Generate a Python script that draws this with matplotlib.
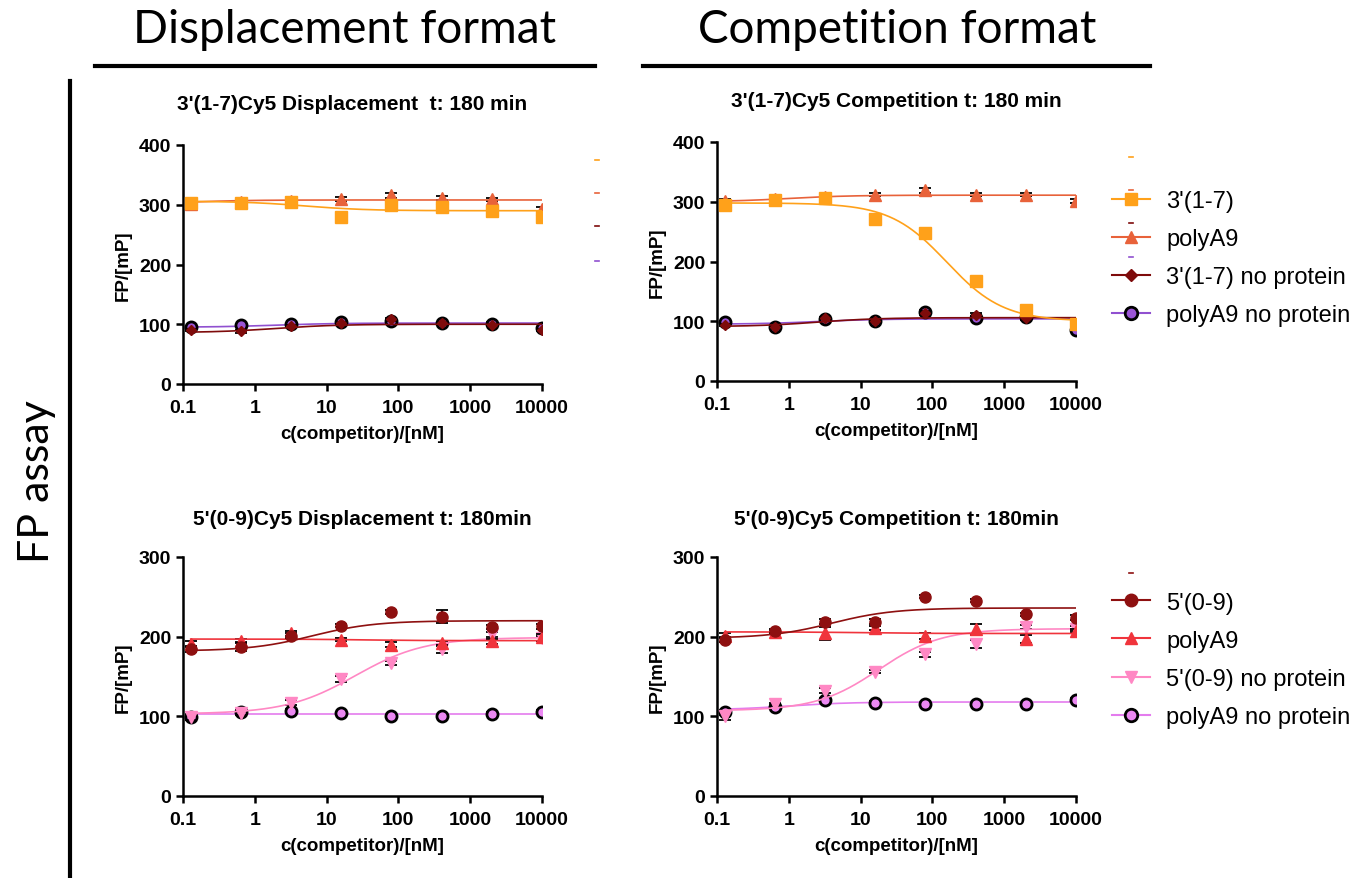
import numpy as np
import matplotlib
matplotlib.use("Agg")
import matplotlib.pyplot as plt
from matplotlib.lines import Line2D
from matplotlib.ticker import FixedLocator, FixedFormatter, NullLocator

plt.rcParams["font.family"] = ["Liberation Sans", "DejaVu Sans"]

# competitor concentrations (nM), 5-fold dilution series
conc = [0.128, 0.64, 3.2, 16, 80, 400, 2000, 10000]

# ---- 3'(1-7) displacement
disp3_labels = ["3'(1-7)", "polyA9", "3'(1-7) no protein", "polyA9 no protein"]
disp3_y = [
    [303, 303, 305, 280, 300, 297, 290, 279],
    [301, 305, 306, 310, 316, 311, 309, 293],
    [90, 88, 97, 102, 108, 102, 99, 90],
    [95, 98, 100, 104, 106, 102, 101, 94],
]
disp3_err = [
    [2, 2, 2, 2, 3, 2, 2, 2],
    [2, 2, 2, 3, 4, 3, 3, 3],
    [2, 2, 2, 2, 3, 2, 2, 2],
    [2, 2, 2, 2, 3, 2, 2, 2],
]
# fit parameters: start, end, logEC50, hill
disp3_fit = [(306, 290, 0.7, 1.0), (300, 308, -1.0, 1.0), (86, 100, 0.3, 1.0), (95, 102, 0.3, 1.0)]

# ---- 3'(1-7) competition
comp3_labels = disp3_labels
comp3_y = [
    [295, 303, 306, 271, 248, 168, 119, 96],
    [302, 305, 308, 312, 319, 312, 312, 301],
    [94, 90, 105, 101, 114, 111, 105, 95],
    [99, 91, 104, 100, 115, 106, 107, 86],
]
comp3_err = [
    [2, 2, 3, 3, 3, 3, 3, 2],
    [2, 2, 3, 3, 4, 3, 3, 3],
    [2, 2, 2, 2, 3, 2, 3, 2],
    [2, 2, 2, 2, 3, 2, 2, 2],
]
comp3_fit = [(298, 100, 2.2, 1.1), (300, 311, 0.0, 1.0), (91, 106, 0.4, 1.0), (95, 104, 0.4, 1.0)]

# ---- 5'(0-9) displacement
disp5_labels = ["5'(0-9)", "polyA9", "5'(0-9) no protein", "polyA9 no protein"]
disp5_y = [
    [184, 187, 201, 214, 231, 225, 212, 213],
    [191, 195, 204, 196, 190, 192, 194, 199],
    [99, 104, 117, 147, 167, 184, 203, 198],
    [99, 106, 107, 104, 101, 101, 103, 106],
]
disp5_err = [
    [3, 5, 3, 2, 2, 8, 3, 3],
    [3, 2, 3, 2, 3, 3, 3, 4],
    [4, 2, 3, 4, 3, 4, 3, 3],
    [3, 2, 2, 2, 2, 2, 2, 2],
]
disp5_fit = [(182, 220, 0.8, 1.0), (197, 195, 1.5, 1.0), (103, 199, 1.4, 0.9), (103, 103, 1.0, 1.0)]

# ---- 5'(0-9) competition
comp5_labels = disp5_labels
comp5_y = [
    [196, 207, 219, 219, 250, 245, 228, 224],
    [201, 206, 204, 211, 201, 209, 197, 207],
    [101, 115, 132, 156, 178, 191, 212, 210],
    [105, 112, 121, 117, 116, 116, 115, 121],
]
comp5_err = [
    [3, 3, 3, 3, 2, 2, 2, 3],
    [3, 2, 8, 3, 4, 7, 5, 2],
    [6, 2, 3, 2, 3, 5, 3, 3],
    [3, 2, 2, 2, 2, 2, 2, 2],
]
comp5_fit = [(198, 236, 0.6, 1.0), (206, 204, 1.0, 1.0), (107, 210, 1.25, 1.0), (108, 118, 0.0, 1.0)]

# styles (color, marker, face, edge, size)
style3 = [
    ("#FFA11A", "s", "#FFA11A", "#FFA11A", 8),
    ("#E8623A", "^", "#E8623A", "#E8623A", 8),
    ("#7E0B0B", "D", "#7E0B0B", "#7E0B0B", 5.5),
    ("#9050D0", "o", "#9B55D6", "black", 8),
]
style5 = [
    ("#8E1010", "o", "#8E1010", "#8E1010", 8),
    ("#F0343C", "^", "#F0343C", "#F0343C", 8),
    ("#FF88C4", "v", "#FF88C4", "#FF88C4", 8),
    ("#E47CEE", "o", "#EB88F2", "black", 8),
]


def logistic(x, p):
    start, end, logec, hill = p
    return start + (end - start) / (1 + 10 ** ((logec - np.log10(x)) * hill))


def draw_panel(ax, title, ys, errs, fits, styles, labels, ymax, title_off, legend_y=None):
    xs = np.logspace(np.log10(conc[0]), np.log10(conc[-1]), 300)
    n = len(ys)
    for i in reversed(range(n)):
        col, mk, fc, ec, ms = styles[i]
        z = 10 + (n - i) * 2
        ax.errorbar(conc, ys[i], yerr=errs[i], fmt="none", ecolor="black",
                    elinewidth=1.3, capsize=4, capthick=1.3, zorder=z)
        ax.plot(xs, logistic(xs, fits[i]), color=col, lw=1.2, zorder=z)
        ax.plot(conc, ys[i], ls="none", marker=mk, ms=ms, mfc=fc, mec=ec,
                mew=2 if ec == "black" else 1, zorder=z + 1)
    ax.set_xscale("log")
    ax.set_xlim(0.1, 10000)
    ax.set_ylim(0, ymax)
    ax.xaxis.set_major_locator(FixedLocator([0.1, 1, 10, 100, 1000, 10000]))
    ax.xaxis.set_major_formatter(FixedFormatter(["0.1", "1", "10", "100", "1000", "10000"]))
    ax.xaxis.set_minor_locator(NullLocator())
    ax.set_yticks(np.arange(0, ymax + 1, 100))
    for s in ["top", "right"]:
        ax.spines[s].set_visible(False)
    for s in ["left", "bottom"]:
        ax.spines[s].set_linewidth(1.8)
    ax.tick_params(width=1.8, length=5, labelsize=14)
    ax.tick_params(axis="x", pad=6)
    for lab in ax.get_xticklabels() + ax.get_yticklabels():
        lab.set_fontweight("bold")
    ax.set_xlabel("c(competitor)/[nM]", fontsize=13.5, fontweight="bold", labelpad=6)
    ax.set_ylabel("FP/[mP]", fontsize=13.5, fontweight="bold", labelpad=5)
    ax.text(title_off[0], 1.0 + title_off[1], title, transform=ax.transAxes,
            ha="center", va="bottom", fontsize=15, fontweight="bold")
    if legend_y is not None:
        handles = []
        for col, mk, fc, ec, ms in styles:
            handles.append(Line2D([], [], color=col, lw=1.5, marker=mk, ms=ms + 1,
                                  mfc=fc, mec=ec, mew=2 if ec == "black" else 1))
        ax.legend(handles, labels, loc="upper left", bbox_to_anchor=(1.1, legend_y),
                  frameon=False, fontsize=17, handlelength=1.6, handletextpad=0.7,
                  labelspacing=0.68, borderpad=0, borderaxespad=0)


fig = plt.figure(figsize=(13.64, 8.79), dpi=100)
W, H = 1364, 879


def axes_px(left, top, right, bottom):
    return fig.add_axes([left / W, 1 - bottom / H, (right - left) / W, (bottom - top) / H])


ax1 = axes_px(183, 146, 542, 385)
ax2 = axes_px(717, 143, 1076, 382)
ax3 = axes_px(183, 558, 542, 797)
ax4 = axes_px(717, 558, 1076, 797)

draw_panel(ax1, "3'(1-7)Cy5 Displacement  t: 180 min", disp3_y, disp3_err, disp3_fit,
           style3, disp3_labels, 400, (0.47, 0.135))
draw_panel(ax2, "3'(1-7)Cy5 Competition t: 180 min", comp3_y, comp3_err, comp3_fit,
           style3, comp3_labels, 400, (0.5, 0.135), legend_y=0.80)
draw_panel(ax3, "5'(0-9)Cy5 Displacement t: 180min", disp5_y, disp5_err, disp5_fit,
           style5, disp5_labels, 300, (0.5, 0.12))
draw_panel(ax4, "5'(0-9)Cy5 Competition t: 180min", comp5_y, comp5_err, comp5_fit,
           style5, comp5_labels, 300, (0.5, 0.12), legend_y=0.855)

# stray legend dashes (leftovers of the original legends)
for x, ys_, cols in [(597, [161, 194, 227, 262], [c[0] for c in style3]),
                     (1131, [158, 191, 224, 258], [c[0] for c in style3]),
                     (1131, [574], [style5[0][0]])]:
    for yy, c in zip(ys_, cols):
        fig.add_artist(Line2D([(x - 2) / W, (x + 2) / W], [1 - yy / H, 1 - yy / H],
                              color=c, lw=1.2))

# section headings and separators
fig.text(345 / W, 1 - 30 / H, "Displacement format", ha="center", va="center",
         fontsize=33, family=["Lato", "DejaVu Sans"])
fig.text(897 / W, 1 - 30 / H, "Competition format", ha="center", va="center",
         fontsize=33, family=["Lato", "DejaVu Sans"])
fig.add_artist(Line2D([95 / W, 595 / W], [1 - 67 / H, 1 - 67 / H], color="black", lw=3))
fig.add_artist(Line2D([643 / W, 1150 / W], [1 - 67 / H, 1 - 67 / H], color="black", lw=3))
fig.add_artist(Line2D([70 / W, 70 / W], [1 - 82 / H, 0], color="black", lw=3))
fig.text(37 / W, 1 - 482 / H, "FP assay", ha="center", va="center", rotation=90,
         fontsize=31, family=["Lato", "DejaVu Sans"])

fig.savefig("out.png", dpi=100)
